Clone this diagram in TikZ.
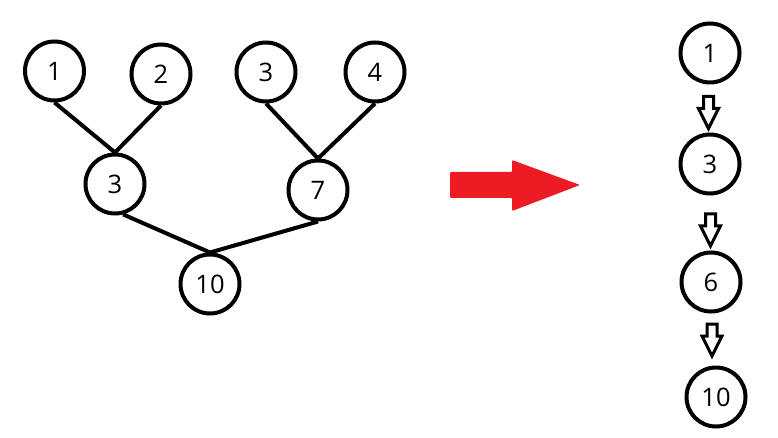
\documentclass[tikz,border=0pt]{standalone}
\usepackage{fontspec}
\setmainfont{Open Sans}
\definecolor{paintred}{HTML}{ED1C24}
\begin{document}
\begin{tikzpicture}[x=1pt,y=-1pt,
  nd/.style={circle,draw=black,line width=4pt,minimum size=59pt,inner sep=0pt,font=\fontsize{25.5}{28}\selectfont},
  edge/.style={line width=4pt,black},
  hollow/.style={draw=black,line width=3pt,fill=white,line join=miter}]
\useasboundingbox (0,0) rectangle (778,438);
% left tree
\node[nd] (a1) at (54.5,71) {1};
\node[nd] (a2) at (161,74) {2};
\node[nd] (a3) at (266,72) {3};
\node[nd] (a4) at (375,72) {4};
\node[nd] (b3) at (115,184) {3};
\node[nd] (b7) at (318,190) {7};
\node[nd] (c10) at (210,284) {10};
\draw[edge] (a1.south) -- (b3.north);
\draw[edge] (a2.south) -- (b3.north);
\draw[edge] (a3.south) -- (b7.north);
\draw[edge] (a4.south) -- (b7.north);
\draw[edge] (b3.-75) -- (c10.north);
\draw[edge] (b7.south) -- (c10.north);
% red arrow
\fill[paintred,rounded corners=1pt] (450,172) -- (512,172) -- (512,160) -- (580,185) -- (512,211) -- (512,198) -- (450,198) -- cycle;
% right chain
\node[nd] (r1) at (710,53) {1};
\node[nd] (r3) at (710,164) {3};
\node[nd] (r6) at (711,282) {6};
\node[nd] (r10) at (716,397) {10};
\foreach \x/\y in {708.5/96.5, 710.5/214, 712/324}{
  \draw[hollow] (\x-5,\y) -- (\x+5,\y) -- (\x+5,\y+12) -- (\x+10,\y+12) -- (\x,\y+32) -- (\x-10,\y+12) -- (\x-5,\y+12) -- cycle;
}
\end{tikzpicture}
\end{document}
